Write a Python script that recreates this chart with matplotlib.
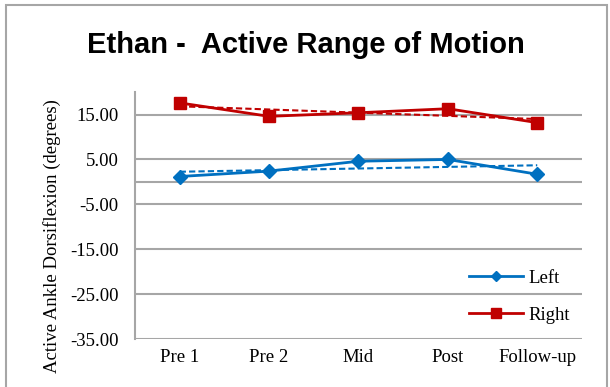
import numpy as np
import matplotlib.pyplot as plt
from matplotlib.patches import Rectangle
from matplotlib.lines import Line2D

# Session labels and measured dorsiflexion (degrees)
sessions = ['Pre 1', 'Pre 2', 'Mid', 'Post', 'Follow-up']
left = [1.2, 2.4, 4.6, 5.0, 1.7]
right = [17.6, 14.6, 15.4, 16.3, 13.2]
yticks = [-35, -25, -15, -5, 5, 15]

blue = '#0070C0'
red = '#C00000'
grid_gray = '#A6A6A6'
serif = 'Liberation Serif'
fs = 13.5

fig = plt.figure(figsize=(6.1, 3.87), dpi=100)
ax = fig.add_axes([0.2213, 0.124, 0.7327, 0.638])

x = np.arange(len(sessions))

ax.plot(x, left, color=blue, lw=2, marker='D', ms=7, zorder=4)
ax.plot(x, right, color=red, lw=2, marker='s', ms=8, zorder=4)

# linear trend lines for each side
for vals, col in [(left, blue), (right, red)]:
    k, b = np.polyfit(x, vals, 1)
    ax.plot(x, k * x + b, color=col, lw=1.5, ls=(0, (3, 1.5)), zorder=3)

ax.set_xlim(-0.5, 4.5)
ax.set_ylim(-35, 20)
ax.set_yticks(yticks)
ax.set_yticklabels([f'{v:.2f}' for v in yticks])
ax.set_xticks(x)
ax.set_xticklabels(sessions)
ax.yaxis.grid(True, color=grid_gray, lw=1.5)
ax.set_axisbelow(True)
ax.axhline(0, color=grid_gray, lw=1.5, zorder=1)
for s in ['top', 'right', 'bottom']:
    ax.spines[s].set_visible(False)
ax.spines['left'].set_color(grid_gray)
ax.spines['left'].set_linewidth(1.5)
ax.tick_params(axis='y', length=0, labelsize=fs, pad=12)
ax.tick_params(axis='x', length=0, labelsize=fs, pad=7)
for lab in ax.get_xticklabels() + ax.get_yticklabels():
    lab.set_fontfamily(serif)

# axis title sits a little below the plot centre
fig.text(52 / 610, 1 - 236 / 387, 'Active Ankle Dorsiflexion (degrees)',
         rotation=90, ha='center', va='center', fontsize=fs, fontfamily=serif)

handles = [Line2D([], [], color=blue, lw=2, marker='D', ms=5),
           Line2D([], [], color=red, lw=2, marker='s', ms=7)]
ax.legend(handles, ['Left', 'Right'], loc='lower right', frameon=False,
          prop={'family': serif, 'size': fs},
          handlelength=2.9, handletextpad=0.3, labelspacing=1.05,
          bbox_to_anchor=(1.012, -0.006))

fig.text(0.502, 0.885, 'Ethan -  Active Range of Motion', ha='center',
         va='center', fontsize=21, fontweight='bold',
         fontfamily='Liberation Sans')

# chart border
fig.patches.append(Rectangle((6 / 610, -0.05), 601 / 610, 1.05 - 5 / 387,
                             transform=fig.transFigure, fill=False,
                             edgecolor=grid_gray, lw=1.5))

fig.savefig('out.png', dpi=100)
plt.close(fig)
